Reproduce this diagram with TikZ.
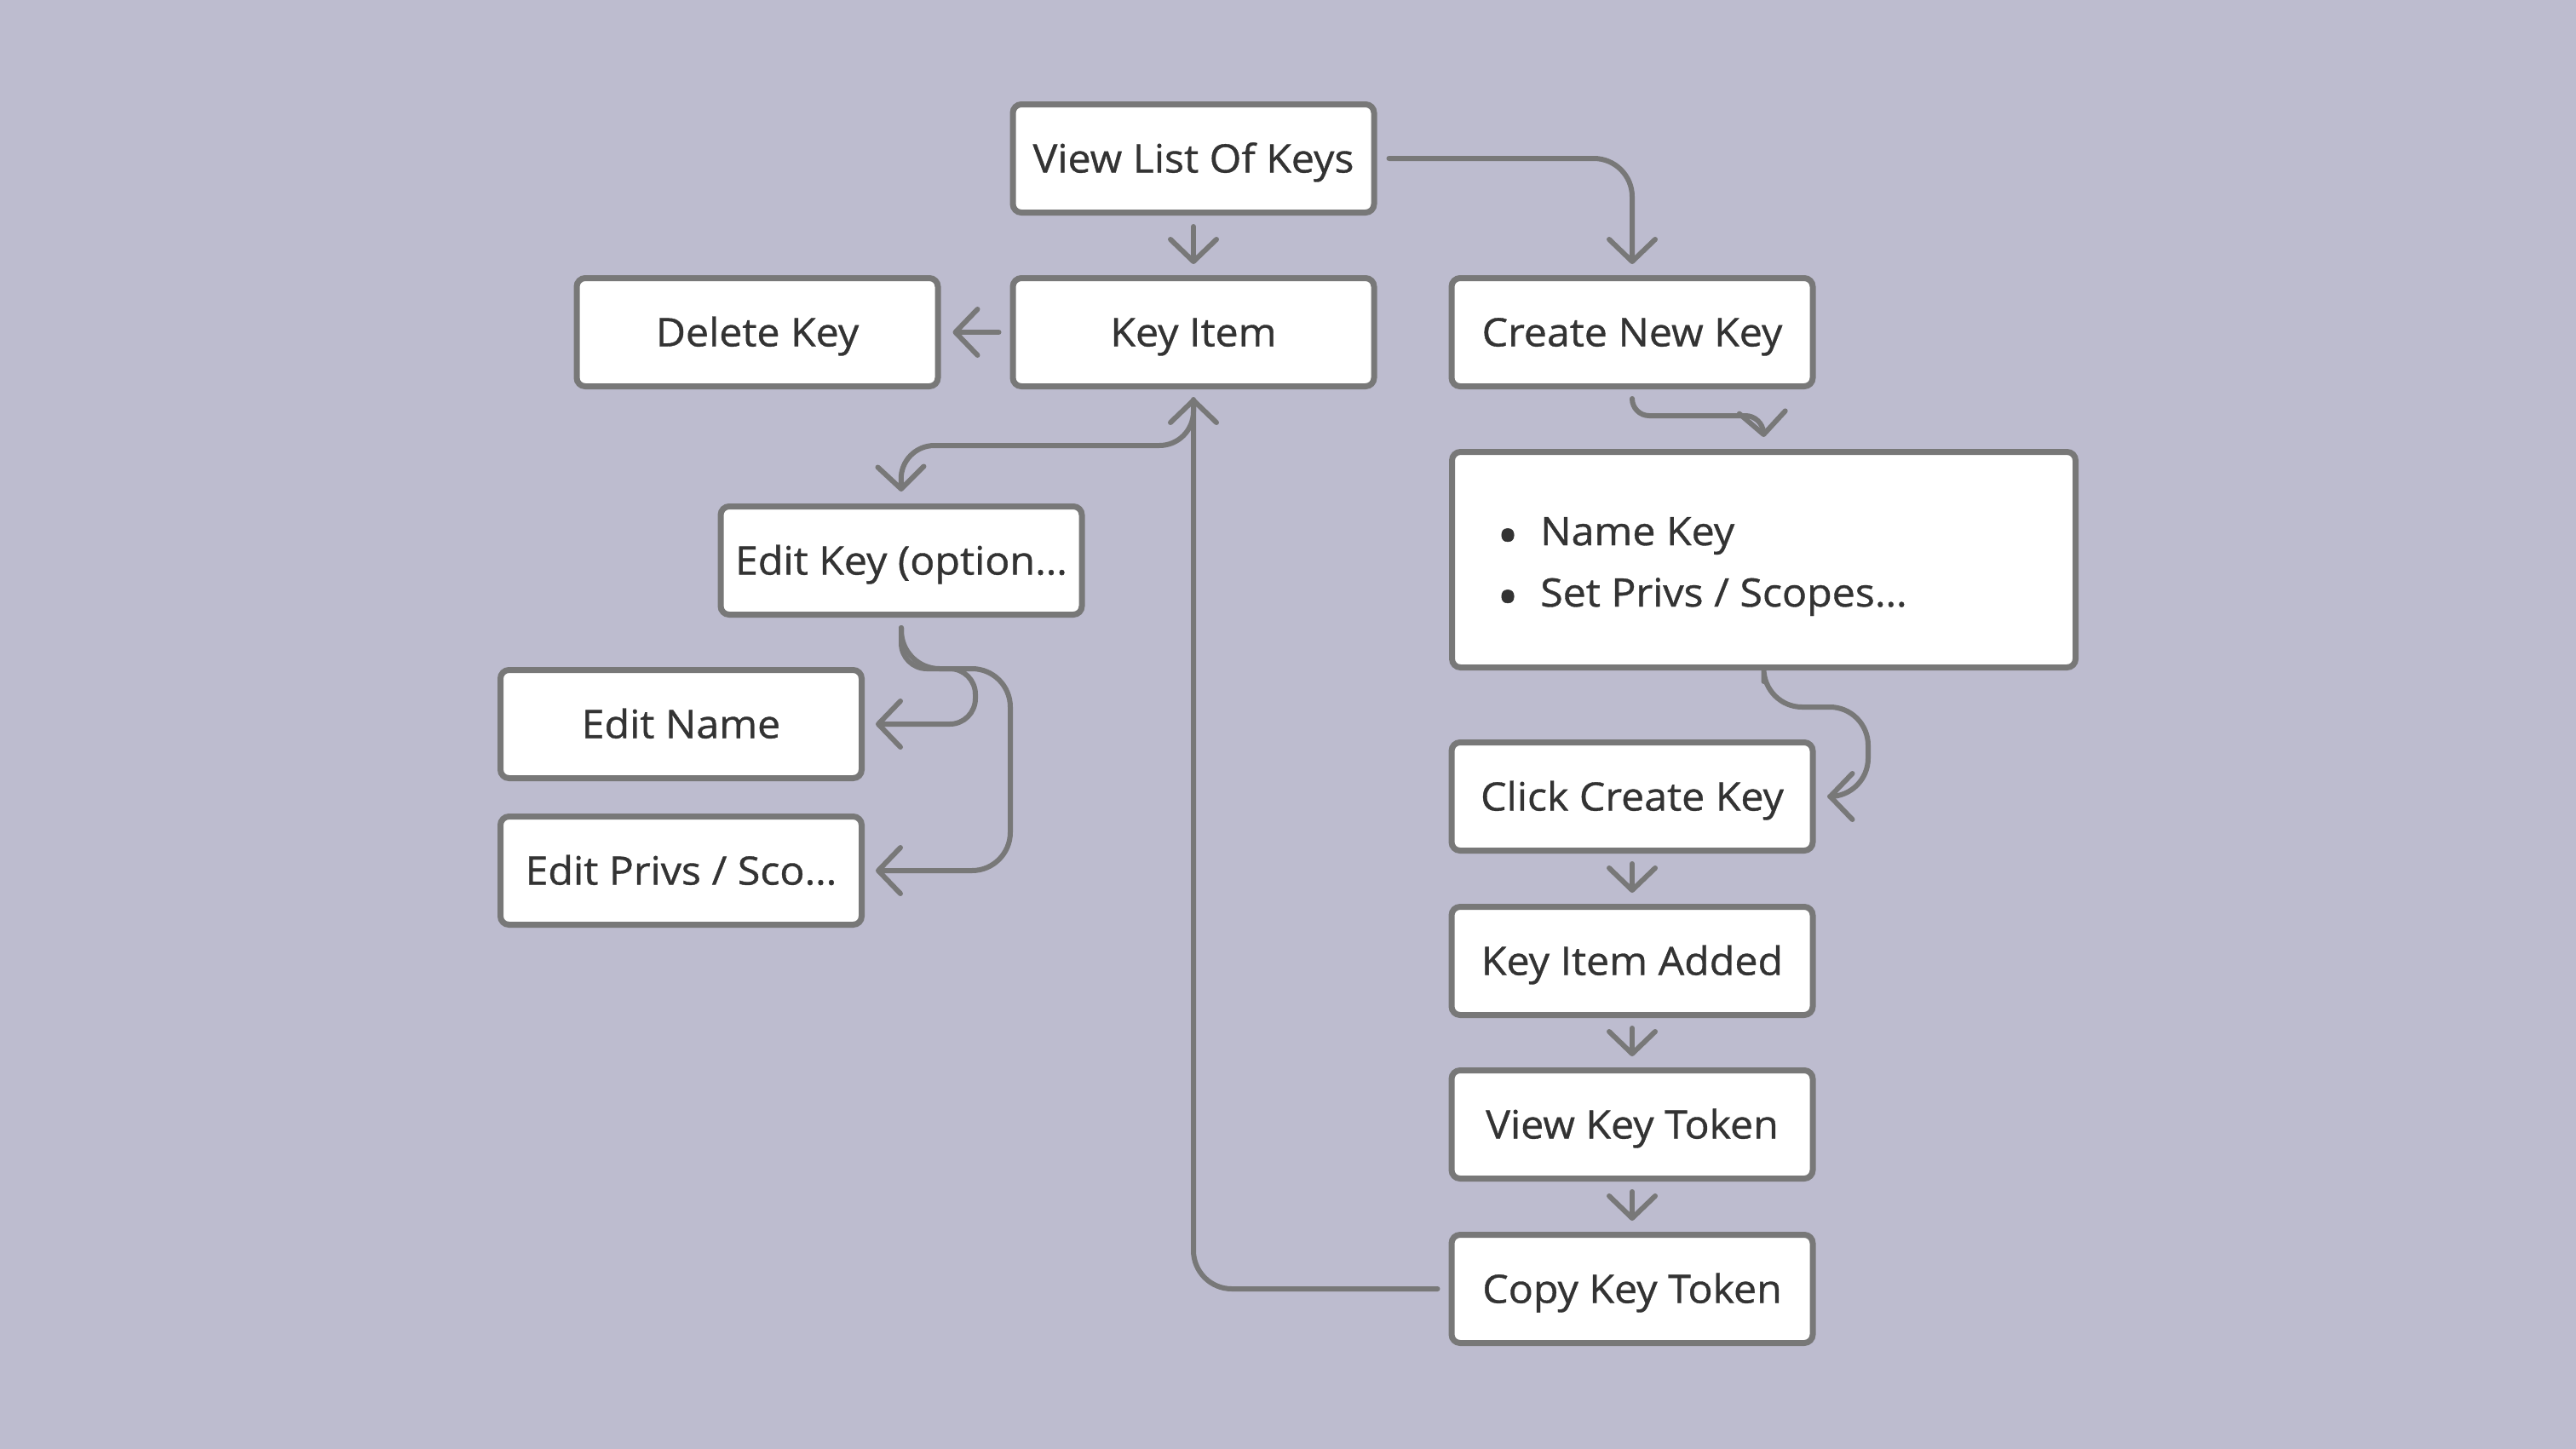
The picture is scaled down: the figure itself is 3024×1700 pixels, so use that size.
\documentclass[tikz,border=0pt]{standalone}
\usepackage{fontspec}
\setmainfont{Open Sans}[FakeStretch=1.05, FakeBold=0.8]
\usetikzlibrary{arrows.meta}
\definecolor{bg}{HTML}{BDBCCF}
\definecolor{edge}{HTML}{787878}
\definecolor{ink}{HTML}{333333}
\begin{document}
\begin{tikzpicture}[x=1pt,y=-1pt,
  box/.style={draw=edge, line width=7pt, fill=white, rounded corners=10pt, minimum width=424pt, minimum height=127pt, inner sep=0pt, text=ink, font=\fontsize{46}{55}\selectfont, text height=33pt, text depth=0pt},
  arr/.style={draw=edge, line width=6pt, line cap=round, line join=round, -{Straight Barb[length=26pt,width=54pt,line cap=round,line join=round]}},
  txt/.style={text=ink, font=\fontsize{46}{55}\selectfont, inner sep=0pt},
  dot/.style={text=ink, font=\fontsize{64}{64}\selectfont, inner sep=0pt}]
\useasboundingbox (0,0) rectangle (3024,1700);
\path[fill=bg] (-20,-20) rectangle (3044,1720);
\node[box] (view) at (1401,186) {View List Of Keys};
\node[box] (key) at (1401,390) {Key Item};
\node[box] (del) at (889,390) {Delete Key};
\node[box] (create) at (1916,390) {Create New Key};
\node[box, minimum width=732pt, minimum height=253pt] (bullet) at (2070.5,657) {};
\node[dot] (d1) at (1770,636) {•};
\node[txt, anchor=base west] (n1) at (1808,640) {Name Key};
\node[dot] (d2) at (1770,708) {•};
\node[txt, anchor=base west] (n2) at (1808,712) {Set Privs / Scopes…};
\node[box] (editkey) at (1058,658) {Edit Key (option…};
\node[box] (editname) at (799.5,850) {Edit Name};
\node[box] (editprivs) at (799.5,1022) {Edit Privs / Sco…};
\node[box] (click) at (1916,935) {Click Create Key};
\node[box] (added) at (1916,1128) {Key Item Added};
\node[box] (token) at (1916,1320) {View Key Token};
\node[box] (copy) at (1916,1513) {Copy Key Token};
\coordinate (c4) at (2069,488);
\coordinate (c5) at (1057,523);
\coordinate (c7) at (1145,785);
\coordinate (c8) at (1186,785);
\coordinate (c9) at (2193,830);
% connectors
\draw[arr] ([yshift=-13pt]view.south) -- ([yshift=13pt]key.north);
\draw[arr, rounded corners=45pt] ([xshift=14pt]view.east) -| ([yshift=13pt]create.north);
\draw[arr] ([xshift=-13pt]key.west) -- ([xshift=14pt]del.east);
\draw[arr, rounded corners=20pt] ([yshift=-12pt]create.south) |- (c4) -- ([yshift=14pt]bullet.north);
\draw[arr, rounded corners=40pt] ([yshift=-12pt]key.south) |- (c5) -- ([yshift=14pt]editkey.north);
\draw[arr, rounded corners=45pt] ([xshift=-13pt]copy.west) -| ([yshift=-10pt]key.south);
\draw[arr, rounded corners=30pt] ([yshift=-12pt]editkey.south) |- (c7) |- ([xshift=13pt]editname.east);
\draw[arr, rounded corners=45pt] ([yshift=-12pt]editkey.south) |- (c8) |- ([xshift=13pt]editprivs.east);
\draw[arr, rounded corners=45pt] ([yshift=-13pt]bullet.south) |- (c9) |- ([xshift=14pt]click.east);
\draw[arr] ([yshift=-12pt]click.south) -- ([yshift=13pt]added.north);
\draw[arr] ([yshift=-12pt]added.south) -- ([yshift=13pt]token.north);
\draw[arr] ([yshift=-12pt]token.south) -- ([yshift=13pt]copy.north);
\end{tikzpicture}
\end{document}
